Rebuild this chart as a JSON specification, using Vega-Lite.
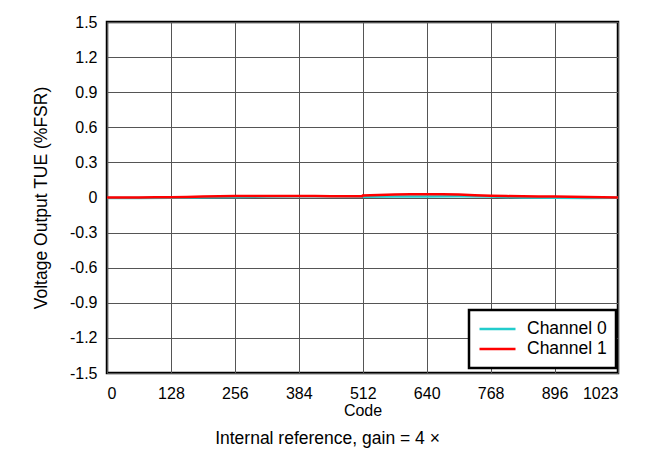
{
  "$schema": "https://vega.github.io/schema/vega-lite/v6.json",
  "width": 511,
  "height": 351,
  "autosize": {"type": "none"},
  "padding": {"left": 107, "top": 22, "right": 44, "bottom": 93},
  "background": "white",
  "title": {"text": "Internal reference, gain = 4 ×", "orient": "bottom", "anchor": "middle", "dx": -35, "font": "Liberation Sans", "fontSize": 17.5, "fontWeight": "normal", "color": "#000", "offset": 12},
  "config": {
    "view": {"stroke": "black", "strokeWidth": 2.5},
    "font": "Liberation Sans",
    "legend": {"strokeColor": "black", "fillColor": "white"}
  },
  "data": {"values": [
    {"code": 0, "tue": -0.004, "ch": "Channel 0"},
    {"code": 64, "tue": -0.004, "ch": "Channel 0"},
    {"code": 128, "tue": -0.002, "ch": "Channel 0"},
    {"code": 192, "tue": 0.002, "ch": "Channel 0"},
    {"code": 256, "tue": 0.005, "ch": "Channel 0"},
    {"code": 320, "tue": 0.008, "ch": "Channel 0"},
    {"code": 384, "tue": 0.01, "ch": "Channel 0"},
    {"code": 448, "tue": 0.01, "ch": "Channel 0"},
    {"code": 511, "tue": 0.008, "ch": "Channel 0"},
    {"code": 512, "tue": 0.006, "ch": "Channel 0"},
    {"code": 576, "tue": 0.008, "ch": "Channel 0"},
    {"code": 640, "tue": 0.008, "ch": "Channel 0"},
    {"code": 704, "tue": 0.01, "ch": "Channel 0"},
    {"code": 768, "tue": 0.008, "ch": "Channel 0"},
    {"code": 832, "tue": 0.0, "ch": "Channel 0"},
    {"code": 896, "tue": -0.003, "ch": "Channel 0"},
    {"code": 960, "tue": -0.004, "ch": "Channel 0"},
    {"code": 1023, "tue": -0.002, "ch": "Channel 0"},
    {"code": 0, "tue": 0.0, "ch": "Channel 1"},
    {"code": 32, "tue": 0.0, "ch": "Channel 1"},
    {"code": 64, "tue": 0.0, "ch": "Channel 1"},
    {"code": 96, "tue": 0.002, "ch": "Channel 1"},
    {"code": 128, "tue": 0.003, "ch": "Channel 1"},
    {"code": 160, "tue": 0.005, "ch": "Channel 1"},
    {"code": 192, "tue": 0.008, "ch": "Channel 1"},
    {"code": 224, "tue": 0.01, "ch": "Channel 1"},
    {"code": 256, "tue": 0.012, "ch": "Channel 1"},
    {"code": 288, "tue": 0.012, "ch": "Channel 1"},
    {"code": 320, "tue": 0.012, "ch": "Channel 1"},
    {"code": 352, "tue": 0.012, "ch": "Channel 1"},
    {"code": 384, "tue": 0.012, "ch": "Channel 1"},
    {"code": 416, "tue": 0.012, "ch": "Channel 1"},
    {"code": 448, "tue": 0.011, "ch": "Channel 1"},
    {"code": 480, "tue": 0.01, "ch": "Channel 1"},
    {"code": 511, "tue": 0.01, "ch": "Channel 1"},
    {"code": 512, "tue": 0.018, "ch": "Channel 1"},
    {"code": 544, "tue": 0.022, "ch": "Channel 1"},
    {"code": 576, "tue": 0.025, "ch": "Channel 1"},
    {"code": 608, "tue": 0.027, "ch": "Channel 1"},
    {"code": 640, "tue": 0.028, "ch": "Channel 1"},
    {"code": 672, "tue": 0.027, "ch": "Channel 1"},
    {"code": 704, "tue": 0.025, "ch": "Channel 1"},
    {"code": 736, "tue": 0.02, "ch": "Channel 1"},
    {"code": 768, "tue": 0.016, "ch": "Channel 1"},
    {"code": 800, "tue": 0.012, "ch": "Channel 1"},
    {"code": 832, "tue": 0.01, "ch": "Channel 1"},
    {"code": 864, "tue": 0.008, "ch": "Channel 1"},
    {"code": 896, "tue": 0.008, "ch": "Channel 1"},
    {"code": 928, "tue": 0.006, "ch": "Channel 1"},
    {"code": 960, "tue": 0.004, "ch": "Channel 1"},
    {"code": 992, "tue": 0.002, "ch": "Channel 1"},
    {"code": 1023, "tue": 0.0, "ch": "Channel 1"}
  ]},
  "mark": {"type": "line", "strokeWidth": 2.5},
  "encoding": {
    "x": {
      "field": "code", "type": "quantitative",
      "scale": {"domain": [0, 1023], "nice": false, "zero": false},
      "axis": {
        "title": "Code", "titleFont": "Liberation Sans", "titleFontSize": 16, "titleFontWeight": "normal", "titleColor": "#000", "titlePadding": 1,
        "values": [0, 128, 256, 384, 512, 640, 768, 896, 1023],
        "labelExpr": "'' + datum.value",
        "labelFont": "Liberation Sans", "labelFontSize": 16, "labelColor": "#000", "labelPadding": 12,
        "ticks": false, "domain": false,
        "grid": true, "gridColor": "#555", "gridWidth": 1, "gridOpacity": 1
      }
    },
    "y": {
      "field": "tue", "type": "quantitative",
      "scale": {"domain": [-1.5, 1.5], "nice": false, "zero": false},
      "axis": {
        "title": "Voltage Output TUE (%FSR)", "titleFont": "Liberation Sans", "titleFontSize": 17.5, "titleFontWeight": "normal", "titleColor": "#000", "titlePadding": 19,
        "values": [-1.5, -1.2, -0.9, -0.6, -0.3, 0, 0.3, 0.6, 0.9, 1.2, 1.5],
        "labelExpr": "'' + datum.value",
        "labelFont": "Liberation Sans", "labelFontSize": 16, "labelColor": "#000", "labelPadding": 10,
        "ticks": false, "domain": false,
        "grid": true, "gridColor": "#555", "gridWidth": 1, "gridOpacity": 1
      }
    },
    "color": {
      "field": "ch", "type": "nominal",
      "scale": {"domain": ["Channel 0", "Channel 1"], "range": ["#22CCCC", "#FF0000"]},
      "legend": {
        "title": null, "orient": "none", "legendX": 362, "legendY": 288,
        "symbolType": "stroke", "symbolSize": 1296, "symbolStrokeWidth": 2.5,
        "clipHeight": 20,
        "labelFont": "Liberation Sans", "labelFontSize": 17.5, "labelColor": "#000", "labelOffset": 10,
        "padding": 9, "rowPadding": 0, "labelLimit": 200,
        "encode": {"legend": {"update": {"strokeWidth": {"value": 2.5}}}}
      }
    }
  }
}
